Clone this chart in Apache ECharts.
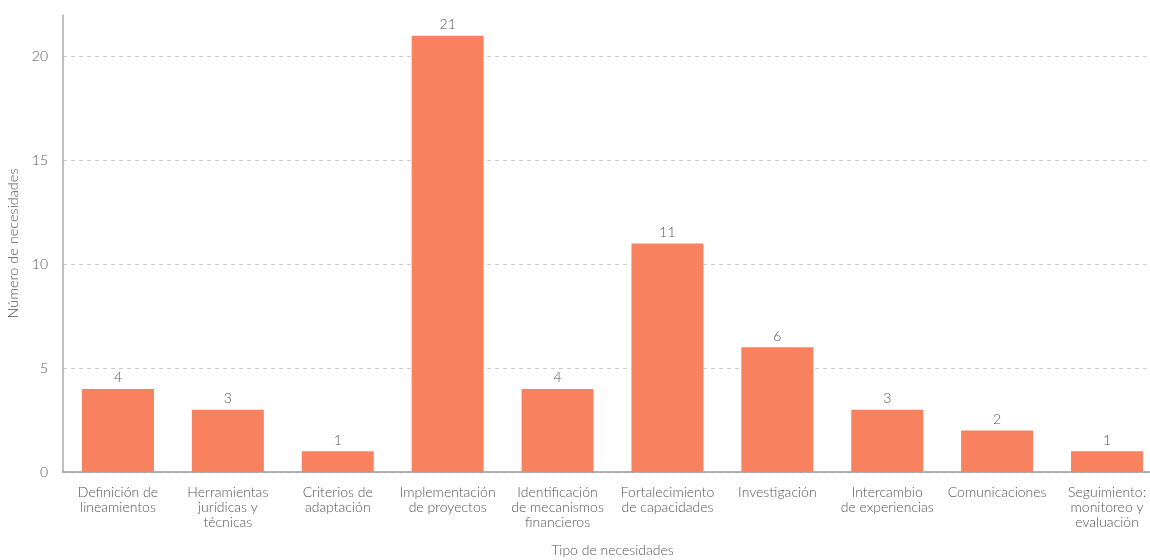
<!DOCTYPE html>
<html><head><meta charset="utf-8">
<script src="https://cdn.jsdelivr.net/npm/echarts@6/dist/echarts.min.js"></script>
<style>html,body{margin:0;padding:0;background:#fff}#c{width:1150px;height:560px}</style>
</head><body><div id="c"></div>
<script>
const categories = ["Definición de\nlineamientos","Herramientas\njurídicas y\ntécnicas","Criterios de\nadaptación","Implementación\nde proyectos","Identificación\nde mecanismos\nfinancieros","Fortalecimiento\nde capacidades","Investigación","Intercambio\nde experiencias","Comunicaciones","Seguimiento:\nmonitoreo y\nevaluación"];
const values = [4,3,1,21,4,11,6,3,2,1];
const yTitle = "Número de necesidades";
const xTitle = "Tipo de necesidades";
const font = "Lato";
const chart = echarts.init(document.getElementById('c'));
chart.setOption({
  animation:false,
  grid:{left:63,width:1099,top:15,bottom:88,containLabel:false,outerBoundsMode:'none'},
  xAxis:{type:'category',data:categories,name:xTitle,nameLocation:'middle',nameGap:71,
    nameTextStyle:{fontFamily:font,fontSize:14,fontWeight:300,color:'#555'},
    axisLine:{lineStyle:{color:'#999',width:1.5}},axisTick:{show:false},
    axisLabel:{interval:0,fontFamily:font,fontSize:14,fontWeight:300,color:'#555',lineHeight:15,margin:13}},
  yAxis:{type:'value',min:0,max:22,interval:5,name:yTitle,nameLocation:'middle',nameGap:40,
    nameTextStyle:{fontFamily:font,fontSize:14.5,fontWeight:300,color:'#555'},
    axisLine:{show:true,lineStyle:{color:'#aaa',width:1.5}},axisTick:{show:false},
    axisLabel:{fontFamily:font,fontSize:14,fontWeight:300,color:'#555',margin:15,showMaxLabel:false},
    splitLine:{lineStyle:{type:[4,4],color:['#ccc','#ccc','#ccc','#ccc','#ccc','rgba(0,0,0,0)']}}},
  series:[{type:'bar',data:values,barWidth:72,itemStyle:{color:'#F8815F'},
    label:{show:true,position:'top',distance:4,fontFamily:font,fontSize:14,fontWeight:300,color:'#555'}}]
});
</script></body></html>
